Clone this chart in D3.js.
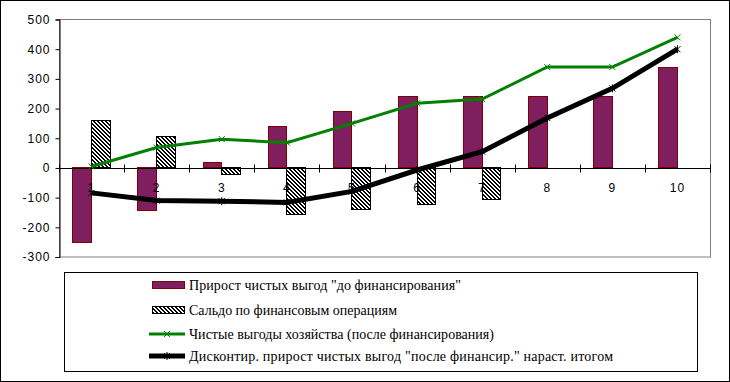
<!DOCTYPE html>
<html>
<head>
<meta charset="utf-8">
<script src="https://cdn.jsdelivr.net/npm/d3@7"></script>
<style>
  body { margin: 0; background: #fff; }
  svg { display: block; }
</style>
</head>
<body>
<div id="chart"></div>
<script>
var categories = ["1", "2", "3", "4", "5", "6", "7", "8", "9", "10"];
// Прирост чистых выгод "до финансирования"
var beforeFin = [-250, -143, 18, 138, 190, 240, 240, 240, 240, 340];
// Сальдо по финансовым операциям
var finBalance = [160, 105, -22, -158, -141, -124, -107, 0, 0, 0];
// Чистые выгоды хозяйства (после финансирования)
var netBenefit = [5, 69, 97, 85, 150, 218, 232, 340, 340, 440];
// Дисконтир. прирост ... нараст. итогом
var discCum = [-84, -110, -112, -116, -79, -7, 55, 168, 268, 400];
var yTicks = [-300, -200, -100, 0, 100, 200, 300, 400, 500];

var legendLabels = [
  "Прирост чистых выгод \"до финансирования\"",
  "Сальдо по финансовым операциям",
  "Чистые выгоды хозяйства (после финансирования)",
  "Дисконтир. прирост чистых выгод  \"после финансир.\" нараст. итогом"
];
var legendWidths = [272, 208, 305, 424];

var width = 730, height = 382;
var plot = { left: 59, top: 19.5, right: 710, bottom: 257 };

var svg = d3.select("#chart").append("svg")
  .attr("width", width)
  .attr("height", height);

// hatch pattern for the balance bars (2px black / 2px white diagonals)
var defs = svg.append("defs");
var pat = defs.append("pattern")
  .attr("id", "hatch")
  .attr("patternUnits", "userSpaceOnUse")
  .attr("width", 4)
  .attr("height", 4);
pat.append("rect").attr("width", 4).attr("height", 4).attr("fill", "#fff");
d3.range(4).forEach(r => {
  [r, (r + 1) % 4].forEach(c => {
    pat.append("rect")
      .attr("x", c).attr("y", r)
      .attr("width", 1).attr("height", 1)
      .attr("fill", "#000");
  });
});

// outer frame
svg.append("rect")
  .attr("x", 0.5).attr("y", 0.5)
  .attr("width", width - 1).attr("height", height - 1)
  .attr("fill", "none").attr("stroke", "#000");

var x0 = d3.scaleBand().domain(categories).range([plot.left, plot.right]);
var x1 = d3.scaleBand().domain(["a", "b"]).range([0, x0.bandwidth()])
  .paddingInner(0).paddingOuter(0.74);
var y = d3.scaleLinear().domain([-300, 500]).range([plot.bottom, plot.top]);

// plot area border
svg.append("rect")
  .attr("x", plot.left + 0.5).attr("y", plot.top)
  .attr("width", plot.right - plot.left).attr("height", plot.bottom - plot.top)
  .attr("fill", "none").attr("stroke", "#808080");

// bars
var g = svg.append("g").attr("shape-rendering", "crispEdges");
g.selectAll("rect.before")
  .data(beforeFin)
  .enter().append("rect")
  .attr("class", "before")
  .attr("x", (d, i) => x0(categories[i]) + x1("a"))
  .attr("y", d => y(Math.max(0, d)))
  .attr("width", x1.bandwidth())
  .attr("height", d => Math.abs(y(d) - y(0)))
  .attr("fill", "#7f1f5f")
  .attr("stroke", "#800000");

g.selectAll("rect.bal")
  .data(finBalance)
  .enter().append("rect")
  .filter(d => d !== 0)
  .attr("class", "bal")
  .attr("x", (d, i) => x0(categories[i]) + x1("b"))
  .attr("y", d => y(Math.max(0, d)))
  .attr("width", x1.bandwidth())
  .attr("height", d => Math.abs(y(d) - y(0)))
  .attr("fill", "url(#hatch)")
  .attr("stroke", "#000");

// y axis
var yAxis = svg.append("g")
  .attr("transform", "translate(" + (plot.left + 0.5) + ",0)")
  .call(d3.axisLeft(y).tickValues(yTicks).tickSize(4).tickPadding(5)
    .tickFormat(d => String(d)));
yAxis.select(".domain").attr("stroke", "#000");
yAxis.selectAll("text")
  .attr("font-family", "Liberation Sans, Arial, sans-serif")
  .attr("font-size", 12)
  .attr("letter-spacing", 1)
  .attr("fill", "#000");

// x axis along zero line, crossing ticks at category boundaries
var zeroY = Math.round(y(0)) + 0.5;
svg.append("line")
  .attr("x1", plot.left).attr("x2", plot.right)
  .attr("y1", zeroY).attr("y2", zeroY)
  .attr("stroke", "#000");
svg.selectAll("line.xtick")
  .data(categories.concat(["end"]))
  .enter().append("line")
  .attr("class", "xtick")
  .attr("x1", (d, i) => Math.round(plot.left + i * x0.step()) + 0.5)
  .attr("x2", (d, i) => Math.round(plot.left + i * x0.step()) + 0.5)
  .attr("y1", zeroY - 4).attr("y2", zeroY + 4)
  .attr("stroke", "#000");
svg.selectAll("text.xlab")
  .data(categories)
  .enter().append("text")
  .attr("class", "xlab")
  .attr("x", d => x0(d) + x0.bandwidth() / 2)
  .attr("y", zeroY + 23)
  .attr("text-anchor", "middle")
  .attr("font-family", "Liberation Sans, Arial, sans-serif")
  .attr("font-size", 12)
  .attr("letter-spacing", 1)
  .text(d => d);

// lines
var cx = i => x0(categories[i]) + x0.bandwidth() / 2;
var line = d3.line().x((d, i) => cx(i)).y(d => y(d));

svg.append("path")
  .datum(netBenefit)
  .attr("d", line)
  .attr("fill", "none")
  .attr("stroke", "#008000")
  .attr("stroke-width", 3);

svg.append("path")
  .datum(discCum)
  .attr("d", line)
  .attr("fill", "none")
  .attr("stroke", "#000")
  .attr("stroke-width", 5);

function xMarker(sel, color, star) {
  sel.each(function(d, i) {
    var m = d3.select(this);
    var px = cx(i), py = y(d);
    m.append("path")
      .attr("d", "M" + (px - 3) + "," + (py - 3) + "L" + (px + 3) + "," + (py + 3) +
        "M" + (px - 3) + "," + (py + 3) + "L" + (px + 3) + "," + (py - 3) +
        (star ? "M" + px + "," + (py - 4) + "L" + px + "," + (py + 4) : ""))
      .attr("stroke", color)
      .attr("stroke-width", 1)
      .attr("fill", "none");
  });
}
svg.append("g").selectAll("g").data(netBenefit).enter().append("g")
  .call(xMarker, "#008000", false);
svg.append("g").selectAll("g").data(discCum).enter().append("g")
  .call(xMarker, "#000", true);

// legend
var lg = svg.append("g");
lg.append("rect")
  .attr("x", 64.5).attr("y", 272.5)
  .attr("width", 633).attr("height", 99)
  .attr("fill", "#fff").attr("stroke", "#000");

var rowY = [285, 310, 334, 356];
lg.append("rect")
  .attr("x", 152.5).attr("y", rowY[0] - 3.5)
  .attr("width", 32).attr("height", 7)
  .attr("fill", "#7f1f5f").attr("stroke", "#800000");
lg.append("rect")
  .attr("x", 152.5).attr("y", rowY[1] - 3.5)
  .attr("width", 32).attr("height", 7)
  .attr("fill", "url(#hatch)").attr("stroke", "#000");
lg.append("line")
  .attr("x1", 149).attr("x2", 185).attr("y1", rowY[2]).attr("y2", rowY[2])
  .attr("stroke", "#008000").attr("stroke-width", 3);
lg.append("path")
  .attr("d", "M164," + (rowY[2] - 3) + "L170," + (rowY[2] + 3) + "M164," + (rowY[2] + 3) + "L170," + (rowY[2] - 3))
  .attr("stroke", "#008000");
lg.append("line")
  .attr("x1", 149).attr("x2", 185).attr("y1", rowY[3]).attr("y2", rowY[3])
  .attr("stroke", "#000").attr("stroke-width", 5);
lg.append("path")
  .attr("d", "M164," + (rowY[3] - 3) + "L170," + (rowY[3] + 3) + "M164," + (rowY[3] + 3) + "L170," + (rowY[3] - 3) + "M167," + (rowY[3] - 4) + "L167," + (rowY[3] + 4))
  .attr("stroke", "#000");

lg.selectAll("text")
  .data(legendLabels)
  .enter().append("text")
  .attr("x", 189)
  .attr("y", (d, i) => rowY[i] + 5)
  .attr("font-family", "Liberation Serif, Times New Roman, serif")
  .attr("font-size", 14)
  .attr("textLength", (d, i) => legendWidths[i])
  .attr("lengthAdjust", "spacing")
  .text(d => d);
</script>
</body>
</html>
